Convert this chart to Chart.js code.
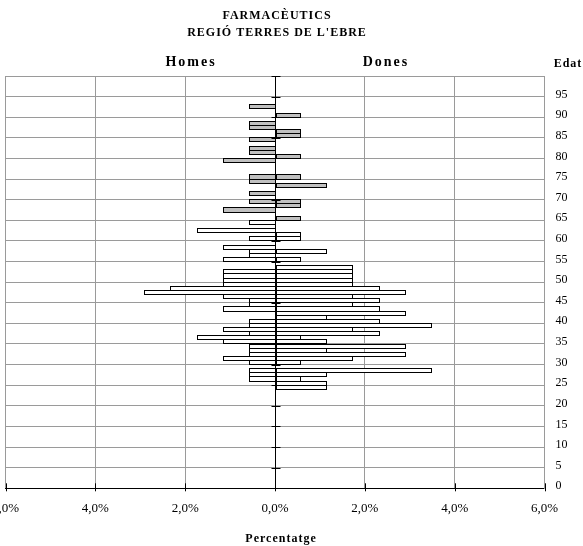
<!DOCTYPE html>
<html>
<head>
<meta charset="utf-8">
<script src="https://cdn.jsdelivr.net/npm/chart.js@4.4.0/dist/chart.umd.min.js"></script>
<style>
  html, body { margin: 0; padding: 0; background: #ffffff; }
  #wrap { width: 583px; height: 546px; }
</style>
</head>
<body>
<div id="wrap"><canvas id="c" width="583" height="546"></canvas></div>
<script>
// ---- data (percent of total) ----
const ages = Array.from({ length: 100 }, (_, i) => String(i));

// Homes (men), index = age 0..99
const menPct = [
  0, 0, 0, 0, 0, 0, 0, 0, 0, 0,            // 0-9
  0, 0, 0, 0, 0, 0, 0, 0, 0, 0,            // 10-19
  0, 0, 0, 0, 0, 0, 0.58, 0.58, 0.58, 0,   // 20-29
  0.58, 1.16, 0.58, 0.58, 0.58, 1.16, 1.74, 0.58, 1.16, 0.58, // 30-39
  0.58, 0, 0, 1.16, 0.58, 0.58, 1.16, 2.91, 2.33, 1.16,       // 40-49
  1.16, 1.16, 1.16, 0, 0, 1.16, 0.58, 0.58, 1.16, 0,          // 50-59
  0.58, 0, 1.74, 0, 0.58, 0, 0, 1.16, 0, 0.58,                // 60-69
  0, 0.58, 0, 0, 0.58, 0.58, 0, 0, 0, 1.16,                   // 70-79
  0, 0.58, 0.58, 0, 0.58, 0, 0, 0.58, 0.58, 0,                // 80-89
  0, 0, 0.58, 0, 0, 0, 0, 0, 0, 0                             // 90-99
];

// Dones (women), index = age 0..99
const womenPct = [
  0, 0, 0, 0, 0, 0, 0, 0, 0, 0,            // 0-9
  0, 0, 0, 0, 0, 0, 0, 0, 0, 0,            // 10-19
  0, 0, 0, 0, 1.16, 1.16, 0.58, 1.16, 3.49, 0,                // 20-29
  0.58, 1.74, 2.91, 1.16, 2.91, 1.16, 0.58, 2.33, 1.74, 3.49, // 30-39
  2.33, 1.16, 2.91, 2.33, 1.74, 2.33, 1.74, 2.91, 2.33, 1.74, // 40-49
  1.74, 1.74, 1.74, 1.74, 0, 0.58, 0, 1.16, 0, 0,             // 50-59
  0.58, 0.58, 0, 0, 0, 0.58, 0, 0, 0.58, 0.58,                // 60-69
  0, 0, 0, 1.16, 0, 0.58, 0, 0, 0, 0,                         // 70-79
  0.58, 0, 0, 0, 0, 0.58, 0.58, 0, 0, 0,                      // 80-89
  0.58, 0, 0, 0, 0, 0, 0, 0, 0, 0                             // 90-99
];

const xTicks = [-6, -4, -2, 0, 2, 4, 6];
const titleLines = ['FARMACÈUTICS', "REGIÓ TERRES DE L'EBRE"];

// ---- styles ----
const SERIF = '"Liberation Serif", "Times New Roman", serif';
const GRID = '#9a9a9a';
const OLD_FILL = '#c0c0c0';
const YOUNG_FILL = '#ffffff';

const fillFor = (ctx) => (Number(ages[ctx.dataIndex]) >= 65 ? OLD_FILL : YOUNG_FILL);

const overlay = {
  id: 'overlay',
  beforeDatasetsDraw(chart) {
    // snap the library-computed bar rectangles to whole pixels for crisp 1px outlines
    chart.getSortedVisibleDatasetMetas().forEach(meta => {
      meta.data.forEach(el => {
        if (!isFinite(el.x) || !isFinite(el.y) || !isFinite(el.base)) return;
        const half = el.height / 2;
        const t = Math.round(el.y - half);
        const b = Math.round(el.y + half);
        el.y = (t + b) / 2;
        el.height = b - t;
        const left = el.x < el.base;
        el.x = Math.round(el.x);
        el.base = Math.round(el.base) + (left ? 1 : 0);
      });
    });
  },
  afterDatasetsDraw(chart) {
    const { ctx, chartArea: a, scales } = chart;
    const xs = scales.x, ys = scales.y;
    const x0 = Math.round(xs.getPixelForValue(0)) + 0.5;
    const step = Math.abs(ys.getPixelForValue(1) - ys.getPixelForValue(0));
    ctx.save();
    ctx.strokeStyle = '#000';
    ctx.lineWidth = 1;
    // central axis
    ctx.beginPath();
    ctx.moveTo(x0, a.top);
    ctx.lineTo(x0, a.bottom);
    ctx.stroke();
    // central axis tick marks every 5 years
    for (let i = 5; i <= ages.length; i += 5) {
      const y = Math.round(ys.getPixelForValue(i) + step / 2) + 0.5;
      ctx.beginPath();
      ctx.moveTo(x0 - 4, y);
      ctx.lineTo(x0 + 5, y);
      ctx.stroke();
    }
    // bottom axis tick marks
    xTicks.forEach(v => {
      const x = Math.round(xs.getPixelForValue(v)) + 0.5;
      ctx.beginPath();
      ctx.moveTo(x, a.bottom - 5);
      ctx.lineTo(x, a.bottom + 3);
      ctx.stroke();
    });
    ctx.restore();
  },
  afterDraw(chart) {
    const { ctx } = chart;
    ctx.save();
    ctx.fillStyle = '#000';
    ctx.textBaseline = 'middle';
    ctx.textAlign = 'center';
    const put = (txt, x, y, font, spacing) => {
      ctx.font = font;
      try { ctx.letterSpacing = spacing; } catch (e) {}
      ctx.fillText(txt, x, y);
    };
    put(titleLines[0], 277, 16, 'bold 12px ' + SERIF, '1px');
    put(titleLines[1], 277, 32.5, 'bold 12px ' + SERIF, '1px');
    put('Homes', 191, 62.5, 'bold 14px ' + SERIF, '2px');
    put('Dones', 386, 62.5, 'bold 14px ' + SERIF, '2px');
    put('Edat', 568, 63.5, 'bold 12px ' + SERIF, '1px');
    put('Percentatge', 281, 539, 'bold 12px ' + SERIF, '1px');
    ctx.restore();
  }
};

new Chart(document.getElementById('c'), {
  type: 'bar',
  data: {
    labels: ages,
    datasets: [
      {
        label: 'Homes',
        data: menPct.map(v => (v ? -v : null)),
        backgroundColor: fillFor,
        borderColor: '#000',
        borderWidth: 1,
        borderSkipped: false,
        inflateAmount: 0,
        grouped: false,
        barPercentage: 1.24,
        categoryPercentage: 1
      },
      {
        label: 'Dones',
        data: womenPct.map(v => (v ? v : null)),
        backgroundColor: fillFor,
        borderColor: '#000',
        borderWidth: 1,
        borderSkipped: false,
        inflateAmount: 0,
        grouped: false,
        barPercentage: 1.24,
        categoryPercentage: 1
      }
    ]
  },
  options: {
    indexAxis: 'y',
    responsive: false,
    devicePixelRatio: 1,
    animation: false,
    layout: { padding: { left: 5.5, top: 76, right: 0, bottom: 0 } },
    plugins: {
      legend: { display: false },
      tooltip: { enabled: false },
      title: { display: false }
    },
    scales: {
      x: {
        type: 'linear',
        min: -6,
        max: 6,
        afterBuildTicks: s => { s.ticks = xTicks.map(v => ({ value: v })); },
        ticks: {
          autoSkip: false,
          maxRotation: 0,
          padding: 12,
          color: '#000',
          font: { family: SERIF, size: 13 },
          callback: v => Math.abs(v).toFixed(1).replace('.', ',') + '%'
        },
        grid: {
          drawTicks: false,
          color: c => (c.tick && c.tick.value === 0 ? '#000' : GRID),
          lineWidth: 1
        },
        border: { display: true, color: '#000' },
        afterFit: s => { s.height = 57.7; s.paddingLeft = 0; s.paddingRight = 0; }
      },
      y: {
        type: 'category',
        position: 'right',
        reverse: true,
        offset: true,
        ticks: {
          autoSkip: false,
          padding: 11,
          color: '#000',
          font: { family: SERIF, size: 12 },
          callback: (v, i) => (i % 5 === 0 ? ages[i] : '')
        },
        grid: {
          offset: true,
          drawTicks: false,
          lineWidth: 1,
          color: c => {
            if (c.index === undefined) return GRID;
            return (c.index % 5 === 0 && c.index > 0) ? GRID : 'rgba(0,0,0,0)';
          }
        },
        border: { display: true, color: GRID },
        afterFit: s => { s.width = 38.5; s.paddingTop = 0; s.paddingBottom = 0; }
      }
    }
  },
  plugins: [overlay]
});
</script>
</body>
</html>
